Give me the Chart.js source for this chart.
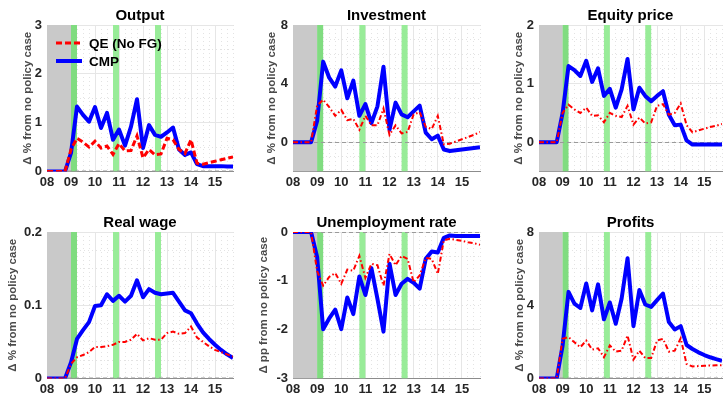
<!DOCTYPE html>
<html>
<head>
<meta charset="utf-8">
<script src="https://cdn.jsdelivr.net/npm/chart.js@4.4.1/dist/chart.umd.min.js"></script>
<style>
 body { margin: 0; background: #fff; }
 #wrap { position: relative; width: 725px; height: 398px; overflow: hidden; }
 canvas { position: absolute; }
</style>
</head>
<body>
<div id="wrap">
 <canvas id="c0" width="240" height="191" style="left:0px;top:0px"></canvas>
 <canvas id="c1" width="240" height="191" style="left:246px;top:0px"></canvas>
 <canvas id="c2" width="233" height="191" style="left:492px;top:0px"></canvas>
 <canvas id="c3" width="240" height="191" style="left:0px;top:207px"></canvas>
 <canvas id="c4" width="240" height="191" style="left:246px;top:207px"></canvas>
 <canvas id="c5" width="233" height="191" style="left:492px;top:207px"></canvas>
</div>
<script>
'use strict';

// quarters shown on the x axis
var quarters = ['2008Q1','2008Q2','2008Q3','2008Q4','2009Q1','2009Q2','2009Q3','2009Q4',
                '2010Q1','2010Q2','2010Q3','2010Q4','2011Q1','2011Q2','2011Q3','2011Q4',
                '2012Q1','2012Q2','2012Q3','2012Q4','2013Q1','2013Q2','2013Q3','2013Q4',
                '2014Q1','2014Q2','2014Q3','2014Q4','2015Q1','2015Q2','2015Q3','2015Q4'];
var yearTicks = ['08','09','10','11','12','13','14','15'];
var seriesNames = ['QE (No FG)', 'CMP'];

// shaded periods (in years)
var recession = [2008, 2009];
var qeRounds = [[2009, 2009.25], [2010.75, 2011], [2012.5, 2012.75]];

// series
var outputQE  = [0,0,0,0, 0.45,0.68,0.6,0.5, 0.62,0.48,0.52,0.35, 0.57,0.42,0.43,0.73, 0.28,0.45,0.34,0.36, 0.68,0.65,0.45,0.37, 0.65,0.17,0.15,0.18, 0.21,0.24,0.27,0.3];
var outputCMP = [0,0,0,0, 0.38,1.33,1.16,1.02, 1.32,0.89,1.2,0.65, 0.86,0.53,0.92,1.48, 0.48,0.95,0.75,0.71, 0.8,0.9,0.45,0.34, 0.39,0.15,0.11,0.11, 0.11,0.11,0.1,0.1];

var investQE  = [0,0,0,0, 2.5,2.9,2.4,1.8, 2.2,1.5,1.6,0.85, 1.8,1.15,1.15,2.3, 0.5,1.15,0.6,0.7, 1.9,2.05,1.05,0.9, 1.8,-0.15,-0.1,0.05, 0.2,0.35,0.5,0.7];
var investCMP = [0,0,0,0, 1.45,5.5,4.4,3.8, 4.9,3.0,4.2,1.8, 2.6,1.3,2.45,5.15, 0.85,2.7,1.9,1.7, 2.1,2.5,0.65,0.2, 0.45,-0.5,-0.6,-0.55, -0.5,-0.45,-0.4,-0.35];

var equityQE  = [0,0,0,0, 0.5,0.64,0.56,0.5, 0.59,0.45,0.46,0.34, 0.5,0.45,0.43,0.62, 0.3,0.42,0.32,0.34, 0.62,0.65,0.47,0.5, 0.66,0.29,0.17,0.2, 0.23,0.26,0.28,0.31];
var equityCMP = [0,0,0,0, 0.5,1.3,1.23,1.13, 1.39,1.03,1.26,0.79, 0.91,0.59,0.9,1.42, 0.56,0.93,0.79,0.7, 0.79,0.87,0.47,0.29, 0.3,0.03,-0.04,-0.04, -0.04,-0.04,-0.04,-0.04];

var wageQE  = [0,0,0,0, 0.02,0.029,0.032,0.036, 0.043,0.043,0.044,0.046, 0.05,0.05,0.053,0.061, 0.052,0.055,0.053,0.053, 0.062,0.064,0.061,0.062, 0.071,0.056,0.05,0.044, 0.039,0.036,0.033,0.03];
var wageCMP = [0,0,0,0, 0.022,0.054,0.066,0.077, 0.099,0.1,0.115,0.106, 0.113,0.105,0.113,0.134, 0.111,0.122,0.117,0.115, 0.116,0.117,0.105,0.093, 0.089,0.075,0.063,0.054, 0.046,0.039,0.033,0.028];

var unempQE  = [0,0,0,0, -0.8,-1.1,-0.92,-0.84, -1.06,-0.77,-0.79,-0.49, -0.94,-0.65,-0.68,-1.1, -0.45,-0.68,-0.49,-0.55, -1.03,-0.89,-0.53,-0.55, -0.86,-0.17,-0.14,-0.16, -0.18,-0.21,-0.23,-0.26];
var unempCMP = [0,0,0,0, -0.51,-1.99,-1.77,-1.59, -1.99,-1.34,-1.68,-0.91, -1.29,-0.74,-1.37,-2.04, -0.65,-1.29,-1.06,-0.96, -1.04,-1.16,-0.55,-0.4, -0.42,-0.12,-0.07,-0.08, -0.08,-0.08,-0.08,-0.08];

var profitQE  = [0,0,0,0, 2.17,2.26,1.98,1.71, 2.07,1.58,1.65,1.16, 1.8,1.47,1.52,2.35, 1.03,1.52,1.12,1.12, 2.07,2.17,1.47,1.52, 2.2,0.79,0.66,0.68, 0.7,0.71,0.72,0.73];
var profitCMP = [0,0,0,0, 1.8,4.73,4.09,3.85, 5.19,3.72,5.14,3.23, 4.15,2.99,4.37,6.57, 2.86,4.83,4.04,3.91, 4.28,4.64,3.08,2.68, 2.86,1.83,1.61,1.43, 1.28,1.16,1.06,0.97];

// y tick labels
var outputTicks = [0, 1, 2, 3];
var investTicks = [0, 4, 8];
var equityTicks = [0, 1, 2];
var wageTicks = [0, 0.1, 0.2];
var unempTicks = [-3, -2, -1, 0];
var profitTicks = [0, 4, 8];

var FONT = "'Liberation Sans', Arial, Helvetica, sans-serif";
Chart.defaults.font.family = FONT;

function toYear(q) { return +q.slice(0, 4) + (+q.slice(5) - 1) / 4; }
var xs = quarters.map(toYear);
function pts(vals) { return vals.map(function (v, i) { return { x: xs[i], y: v }; }); }
function isMajor(v, list) { return list.some(function (m) { return Math.abs(v - m) < 1e-9; }); }

var bandsPlugin = {
  id: 'bands',
  beforeDatasetsDraw: function (chart) {
    var ctx = chart.ctx, a = chart.chartArea, sx = chart.scales.x, sy = chart.scales.y;
    ctx.save();
    ctx.beginPath();
    ctx.rect(a.left, a.top, a.right - a.left, a.bottom - a.top);
    ctx.clip();
    var x0 = sx.getPixelForValue(recession[0]), x1 = sx.getPixelForValue(recession[1]);
    ctx.fillStyle = '#c9c9c9';
    ctx.fillRect(x0, a.top, x1 - x0, a.bottom - a.top);
    qeRounds.forEach(function (r, i) {
      var l = sx.getPixelForValue(r[0]), rr = sx.getPixelForValue(r[1]);
      ctx.fillStyle = i === 0 ? '#80dc80' : '#98ec98';
      ctx.fillRect(l, a.top, rr - l, a.bottom - a.top);
    });
    // dashed zero line
    var y0 = Math.round(sy.getPixelForValue(0)) + 0.5;
    y0 = Math.min(Math.max(y0, a.top + 0.5), a.bottom - 0.5);
    ctx.strokeStyle = '#9a9a9a';
    ctx.lineWidth = 1;
    ctx.setLineDash([4, 3]);
    ctx.beginPath();
    ctx.moveTo(a.left, y0);
    ctx.lineTo(a.right, y0);
    ctx.stroke();
    ctx.restore();
  }
};

var legendPlugin = {
  id: 'inLegend',
  afterDatasetsDraw: function (chart, args, opts) {
    if (!opts.show) return;
    var ctx = chart.ctx, a = chart.chartArea;
    ctx.save();
    chart.data.datasets.forEach(function (ds, i) {
      var y = a.top + 18 + i * 18;
      ctx.strokeStyle = ds.borderColor;
      ctx.lineWidth = ds.borderWidth;
      ctx.setLineDash(ds.borderDash || []);
      ctx.beginPath();
      ctx.moveTo(a.left + 9, y);
      ctx.lineTo(a.left + 35, y);
      ctx.stroke();
      ctx.setLineDash([]);
      ctx.fillStyle = '#000';
      ctx.font = 'bold 13.5px ' + FONT;
      ctx.textBaseline = 'middle';
      ctx.fillText(ds.label, a.left + 42, y + 1);
    });
    ctx.restore();
  }
};

var panels = [
  { id: 'c0', title: 'Output', qe: outputQE, cmp: outputCMP, min: 0, max: 3, step: 0.5, ticks: outputTicks,
    unit: 'Δ % from no policy case', labelPad: 21, padRight: 7, legend: true, qeDash: [6, 3], qeWidth: 3 },
  { id: 'c1', title: 'Investment', qe: investQE, cmp: investCMP, min: -2, max: 8, step: 1, ticks: investTicks,
    unit: 'Δ % from no policy case', labelPad: 18.5, padRight: 6 },
  { id: 'c2', title: 'Equity price', qe: equityQE, cmp: equityCMP, min: -0.5, max: 2, step: 0.25, ticks: equityTicks,
    unit: 'Δ % from no policy case', labelPad: 19.5, padRight: 1 },
  { id: 'c3', title: 'Real wage', qe: wageQE, cmp: wageCMP, min: 0, max: 0.2, step: 0.025, ticks: wageTicks,
    unit: 'Δ % from no policy case', labelPad: 5.5, padRight: 7 },
  { id: 'c4', title: 'Unemployment rate', qe: unempQE, cmp: unempCMP, min: -3, max: 0, step: 0.5, ticks: unempTicks,
    unit: 'Δ pp from no policy case', labelPad: 11, padRight: 6 },
  { id: 'c5', title: 'Profits', qe: profitQE, cmp: profitCMP, min: 0, max: 8, step: 1, ticks: profitTicks,
    unit: 'Δ % from no policy case', labelPad: 21, padRight: 1 }
];

var tickFont = { family: FONT, size: 13, weight: 'bold' };

panels.forEach(function (p) {
  new Chart(document.getElementById(p.id), {
    type: 'line',
    data: {
      datasets: [
        { label: seriesNames[0], data: pts(p.qe), borderColor: '#ff0000', borderWidth: p.qeWidth || 2,
          borderDash: p.qeDash || [5, 2.5, 1.5, 2.5], pointRadius: 0, tension: 0, fill: false },
        { label: seriesNames[1], data: pts(p.cmp), borderColor: '#0000ff', borderWidth: 4,
          borderJoinStyle: 'round', pointRadius: 0, tension: 0, fill: false }
      ]
    },
    options: {
      responsive: false,
      animation: false,
      layout: { padding: { top: 7, right: p.padRight, left: 0, bottom: 0 } },
      plugins: {
        legend: { display: false },
        tooltip: { enabled: false },
        title: { display: true, text: p.title, color: '#000', fullSize: false,
                 font: { family: FONT, size: 15, weight: 'bold' }, padding: 0 },
        inLegend: { show: !!p.legend }
      },
      scales: {
        x: {
          type: 'linear', min: 2008, max: 2015.75,
          afterFit: function (s) { s.height = 19.5; },
          ticks: {
            stepSize: 0.25, autoSkip: false, maxRotation: 0, padding: 3, color: '#262626', font: tickFont,
            callback: function (v) {
              var k = Math.round(v);
              return Math.abs(v - k) < 1e-6 ? yearTicks[k - 2008] : '';
            }
          },
          grid: {
            drawTicks: false,
            color: function (c) {
              if (!c.tick) return '#e6e6e6';
              return Math.abs(c.tick.value - Math.round(c.tick.value)) < 1e-6 ? '#e6e6e6' : '#e3e3e3';
            }
          },
          border: {
            color: '#8c8c8c',
            dash: function (c) {
              if (!c.tick) return [];
              return Math.abs(c.tick.value - Math.round(c.tick.value)) < 1e-6 ? [] : [1, 3];
            }
          }
        },
        y: {
          min: p.min, max: p.max,
          afterFit: function (s) { s.width = 47; },
          ticks: {
            stepSize: p.step, autoSkip: false, padding: 5, color: '#262626', font: tickFont,
            callback: function (v) { return isMajor(v, p.ticks) ? String(+v.toFixed(3)) : ''; }
          },
          grid: {
            drawTicks: false,
            color: function (c) {
              if (!c.tick) return '#e6e6e6';
              return isMajor(c.tick.value, p.ticks) ? '#e6e6e6' : '#e3e3e3';
            }
          },
          border: {
            color: '#8c8c8c',
            dash: function (c) {
              if (!c.tick) return [];
              return isMajor(c.tick.value, p.ticks) ? [] : [1, 3];
            }
          },
          title: {
            display: true, text: p.unit, color: '#4a4a4a',
            font: { family: FONT, size: 11.5, weight: 'bold' },
            padding: { top: p.labelPad, bottom: 0 }
          }
        }
      }
    },
    plugins: [bandsPlugin, legendPlugin]
  });
});
</script>
</body>
</html>
